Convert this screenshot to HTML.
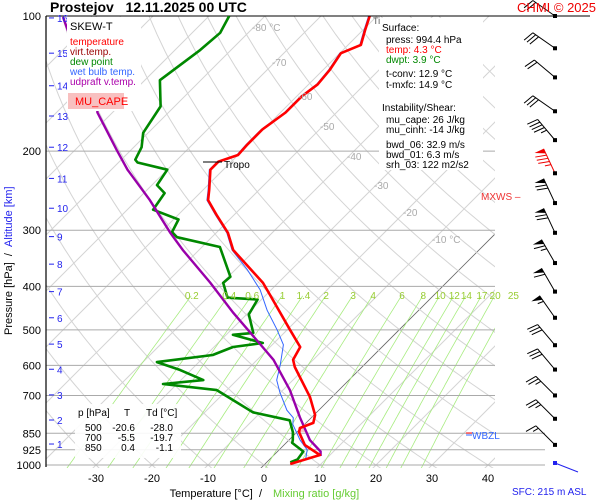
<!DOCTYPE html>
<html><head><meta charset="utf-8"><style>
html,body{margin:0;padding:0;background:#fff;}
svg{display:block;font-family:"Liberation Sans",sans-serif;}
</style></head><body>
<svg id="chart" width="600" height="500" viewBox="0 0 600 500" xmlns="http://www.w3.org/2000/svg">
<defs><clipPath id="plotclip"><rect x="46" y="16" width="449" height="452"/></clipPath></defs>
<rect x="0" y="0" width="600" height="500" fill="#fff"/>
<g id="grid" clip-path="url(#plotclip)"></g>
<g id="plines"></g>
<g id="series" clip-path="url(#plotclip)"></g>
<g id="labels"></g>
<g id="barbs"></g>

<text x="50" y="12" font-size="14" font-weight="bold">Prostejov&#160;&#160;&#160;12.11.2025 00 UTC</text>
<text x="596" y="12" font-size="13" fill="#e00" text-anchor="end">CHMI © 2025</text>

<g>
<rect x="67" y="17" width="74" height="94" fill="#fff"/>
<text x="70" y="30" font-size="11" fill="#000">SKEW-T</text>
<text x="70" y="45" font-size="10" fill="#f00">temperature</text>
<text x="70" y="55" font-size="10" fill="#900">virt.temp.</text>
<text x="70" y="65" font-size="10" fill="#080">dew point</text>
<text x="70" y="75" font-size="10" fill="#36f">wet bulb temp.</text>
<text x="70" y="85" font-size="10" fill="#a0a">udpraft v.temp.</text>
<rect x="68" y="93" width="56" height="16" fill="#f8c0c0"/>
<text x="75" y="105" font-size="11" fill="#f00">MU_CAPE</text>
</g>

<g font-size="10">
<rect x="379" y="18" width="104" height="152" fill="#fff"/>
<text x="382" y="31">Surface:</text>
<text x="386" y="43">press: 994.4 hPa</text>
<text x="386" y="53" fill="#f00">temp: 4.3 °C</text>
<text x="386" y="63" fill="#080">dwpt: 3.9 °C</text>
<text x="386" y="77">t-conv: 12.9 °C</text>
<text x="386" y="88">t-mxfc: 14.9 °C</text>
<text x="382" y="111">Instability/Shear:</text>
<text x="386" y="123">mu_cape: 26 J/kg</text>
<text x="386" y="133">mu_cinh: -14 J/kg</text>
<text x="386" y="148">bwd_06: 32.9 m/s</text>
<text x="386" y="158">bwd_01: 6.3 m/s</text>
<text x="386" y="168">srh_03: 122 m2/s2</text>
</g>

<g font-size="10">
<rect x="75" y="404" width="106" height="54" fill="#fff" opacity="0.9"/>
<text x="78" y="416">p [hPa]</text><text x="124" y="416">T</text><text x="146" y="416">Td [°C]</text>
<text x="85" y="431">500</text><text x="135" y="431" text-anchor="end">-20.6</text><text x="173" y="431" text-anchor="end">-28.0</text>
<text x="85" y="441">700</text><text x="135" y="441" text-anchor="end">-5.5</text><text x="173" y="441" text-anchor="end">-19.7</text>
<text x="85" y="451">850</text><text x="135" y="451" text-anchor="end">0.4</text><text x="173" y="451" text-anchor="end">-1.1</text>
</g>

<line x1="203" y1="162" x2="222" y2="162" stroke="#000"/>
<text x="224" y="168" font-size="10">Tropo</text>
<line x1="350" y1="16" x2="371" y2="16" stroke="#000"/>
<text x="373" y="24" font-size="9" fill="#555">Ti</text>
<text x="481" y="200" font-size="10" fill="#e33">MXWS –</text>
<line x1="466" y1="433" x2="472" y2="433" stroke="#f00"/>
<line x1="466" y1="435" x2="472" y2="435" stroke="#36f"/>
<text x="472" y="439" font-size="10" fill="#36f">WBZL</text>

<text x="262" y="497" font-size="11" text-anchor="end">Temperature [°C]&#160;&#160;/</text>
<text x="273" y="497" font-size="11" fill="#6c3">Mixing ratio [g/kg]</text>
<text x="512" y="495" font-size="10" fill="#22e">SFC: 215 m ASL</text>
<g transform="translate(12,335) rotate(-90)">
<text x="0" y="0" font-size="11">Pressure [hPa]&#160;&#160;/&#160;&#160;<tspan fill="#22e">Altitude [km]</tspan></text>
</g>
</svg>
<script>
const isoT=[-120,-110,-100,-90,-80,-70,-60,-50,-40,-30,-20,-10,0,10,20,30,40,50];
const dryTheta=[-40,-30,-20,-10,0,10,20,30,40,50,60,70,80,90,100,110,120,130,140,150,160];
const mixW=[0.2,0.4,0.6,1,1.4,2,3,4,6,8,10,12,14,17,20,25];
const pLevels=[100,200,300,400,500,600,700,850,925,1000];
const xTicks=[-30,-20,-10,0,10,20,30,40];
const kmLabels=[1,2,3,4,5,6,7,8,9,10,11,12,13,14,15,16];
const kmP=[898,794,698,612,538,470,411,357,310,268,230,196,167,143,121,101];

const tempP=[100,107.5,116,121,132,142,151,164,179,194,204,211,220,244,257,277,304,332,393,418,500,546,583,605,706,774,806,827,845,903,950,995];
const tempT=[-61.3,-59.6,-57.7,-59.8,-58.8,-58.4,-59.1,-59.1,-60.2,-60.2,-60,-62.3,-62.3,-58.9,-57.3,-53.2,-47.9,-43.9,-32.7,-29.3,-19.5,-14.6,-13.6,-12,-3.9,0.2,1.3,-0.2,0.4,3.75,8.2,4.5];

const dewP=[100,109,119,139,159,182,196,209,212,220,238,248,270,284,303,311,327,381,393,424,428,462,508,513,535,546,569,590,614,647,660,681,717,763,795,845,880,893,933,972,986];
const dewT=[-86.4,-85,-85.5,-87.3,-82.5,-80.9,-78.6,-77.5,-76.6,-70,-69.1,-66.3,-65.4,-59.1,-58,-56.2,-46.8,-39.6,-39.8,-36.4,-30.7,-29.6,-25.5,-28.8,-22,-26.6,-28.8,-37.5,-32,-26,-32.5,-21.8,-17.1,-11.4,-3.4,-0.7,0.7,1.1,4.6,5,4.2];

const parcelP=[100.5,119,139,164,199,220,257,304,332,393,458,527,583,681,783,880,933,955];
const parcelT=[-115.9,-107.9,-98.6,-92.7,-82.5,-77.1,-67.7,-58.2,-52.9,-42.1,-32.7,-23.6,-17.1,-8.75,-2.1,3.75,7.7,8.5];

const wbP=[100,107.5,116,121,132,142,151,164,179,194,204,211,220,244,257,277,304,332,367,407,452,500,540,598,647,688,755,785,812,880,925,974];
const wbT=[-61.5,-59.8,-57.9,-60,-59,-58.6,-59.3,-59.3,-60.4,-60.4,-60.2,-62.5,-62.5,-59.1,-57.5,-53.4,-48.1,-44.1,-37.9,-32,-27.1,-21.8,-18,-15,-12.9,-10.2,-5.7,-3.2,-2.1,2,5,6.5];

const windP=[100,118,137,163,189,224,261,304,355,411,470,541,613,700,789,902];
const windKt=[20,30,20,30,45,85,70,70,65,60,55,30,30,25,25,15];
const windDir=[305,305,310,305,320,335,335,335,330,330,325,320,320,315,315,315];

const NS='http://www.w3.org/2000/svg';
function yP(p){return 16+449*Math.log10(p/100);}
function xT(t,p){return 264+5.6*t+(465-yP(p));}
function mk(tag,attrs,parent){const e=document.createElementNS(NS,tag);for(const k in attrs)e.setAttribute(k,attrs[k]);parent.appendChild(e);return e;}
function pathFrom(ps,ts){let d='';for(let i=0;i<ps.length;i++){d+=(i?'L':'M')+xT(ts[i],ps[i]).toFixed(1)+','+yP(ps[i]).toFixed(1);}return d;}
const grid=document.getElementById('grid');
const plines=document.getElementById('plines');
const series=document.getElementById('series');
const labels=document.getElementById('labels');
const barbs=document.getElementById('barbs');

isoT.forEach(t=>{
  const l=mk('line',{x1:xT(t,1050),y1:yP(1050),x2:xT(t,100),y2:yP(100),stroke:t===0?'#666':'#d4d4d4','stroke-width':t===0?0.8:1},grid);
  
  
});
dryTheta.forEach(th=>{
  let d='';let first=true;
  for(let p=1050;p>=100;p-=10){const t=(th+273.15)*Math.pow(p/1000,0.286)-273.15;d+=(first?'M':'L')+xT(t,p).toFixed(1)+','+yP(p).toFixed(1);first=false;}
  const e=mk('path',{d:d,fill:'none',stroke:'#d4d4d4','stroke-width':1},grid);
  
  
});
function tw(w,p){const es=w*p/(622+w);const a=Math.log(es/6.112);return 243.5*a/(17.67-a);}
mixW.forEach(w=>{
  let d='';let first=true;
  for(let p=1040;p>=420;p-=10){d+=(first?'M':'L')+xT(tw(w,p),p).toFixed(1)+','+yP(p).toFixed(1);first=false;}
  const e=mk('path',{d:d,fill:'none',stroke:'#a8ec80','stroke-width':0.8},grid);
  
  
  const tx=mk('text',{x:xT(tw(w,418),418).toFixed(1),y:299,'font-size':10,fill:'#99cc33','text-anchor':'middle'},labels);
  tx.textContent=String(w);
  
  
});
[[-80,'-80 °C',252,31],[-70,'-70',272,66],[-60,'-60',298,100],[-50,'-50',320,130],[-40,'-40',347,160],[-30,'-30',374,189],[-20,'-20',403,216],[-10,'-10 °C',432,243]].forEach(a=>{
  const tx=mk('text',{x:a[2],y:a[3],'font-size':10,fill:'#aaa'},labels);
  tx.textContent=a[1];
  
  
});
pLevels.forEach(p=>{
  const y=yP(p);
  const ext=(p>=850)?545:495;
  const l=mk('line',{x1:46,y1:y,x2:ext,y2:y,stroke:'#aaa','stroke-width':1},plines);
  
  
  const tx=mk('text',{x:41,y:y+4,'font-size':11,'text-anchor':'end'},labels);
  tx.textContent=String(p);
  
  
});
mk('line',{x1:46,y1:16,x2:590,y2:16,stroke:'#000','stroke-width':1},plines);
mk('line',{x1:46,y1:16,x2:46,y2:467,stroke:'#000','stroke-width':1.2},plines);
kmLabels.forEach((k,i)=>{
  const y=yP(kmP[i]);
  const l=mk('line',{x1:49,y1:y,x2:54,y2:y,stroke:'#22e','stroke-width':1},labels);
  
  
  const tx=mk('text',{x:57,y:y+4,'font-size':10,fill:'#22e'},labels);
  tx.textContent=String(k);
  
  
});
xTicks.forEach(t=>{
  const tx=mk('text',{x:xT(t,1000),y:482,'font-size':11,'text-anchor':'middle'},labels);
  tx.textContent=String(t);
  
  
});
const cape=mk('path',{d:'M'+xT(tempT[27],tempP[27])+','+yP(tempP[27])+'L'+xT(-0.2,805)+','+yP(805)+'L'+xT(1.6,845)+','+yP(845)+'L'+xT(0.4,845)+','+yP(845)+'Z',fill:'#f6c6c6',stroke:'none'},series);


const wb=mk('path',{d:pathFrom(wbP,wbT),fill:'none',stroke:'#3366ff','stroke-width':1},series);


const dw=mk('path',{d:pathFrom(dewP,dewT),fill:'none',stroke:'#008800','stroke-width':2.6,'stroke-linejoin':'round'},series);


const pc=mk('path',{d:pathFrom(parcelP,parcelT),fill:'none',stroke:'#9900aa','stroke-width':2.4},series);


const tp=mk('path',{d:pathFrom(tempP,tempT),fill:'none',stroke:'#ff0000','stroke-width':2.6,'stroke-linejoin':'round'},series);


windP.forEach((p,i)=>{
  const g=mk('g',{},barbs);
  
  
  const col=(i===5)?'#e00':'#000';
  const x0=555,y0=yP(p);
  const a=windDir[i]*Math.PI/180;
  const ux=Math.sin(a),uy=-Math.cos(a);
  const L=27;
  const x1=x0+ux*L,y1=y0+uy*L;
  mk('line',{x1:x0,y1:y0,x2:x1,y2:y1,stroke:col,'stroke-width':1},g);
  mk('rect',{x:x0-2,y:y0-2,width:4,height:4,fill:'#000'},g);
  const px=uy,py=-ux;
  let s=windKt[i];let pos=0;
  while(s>=50){const bx=x1-ux*pos,by=y1-uy*pos;const cx=x1-ux*(pos+5),cy=y1-uy*(pos+5);
    mk('polygon',{points:bx+','+by+' '+(bx+px*10)+','+(by+py*10)+' '+cx+','+cy,fill:col},g);pos+=7;s-=50;}
  while(s>=10){const bx=x1-ux*pos,by=y1-uy*pos;mk('line',{x1:bx,y1:by,x2:bx+px*11+ux*3,y2:by+py*11+uy*3,stroke:col,'stroke-width':1},g);pos+=3.5;s-=10;}
  if(s>=5){const bx=x1-ux*pos,by=y1-uy*pos;mk('line',{x1:bx,y1:by,x2:bx+px*6+ux*1.5,y2:by+py*6+uy*1.5,stroke:col,'stroke-width':1},g);}
});
const sfc=mk('line',{x1:555,y1:463,x2:578,y2:472,stroke:'#22e','stroke-width':1},barbs);


mk('rect',{x:553,y:461,width:4,height:4,fill:'#22e'},barbs);
</script>
</body></html>
